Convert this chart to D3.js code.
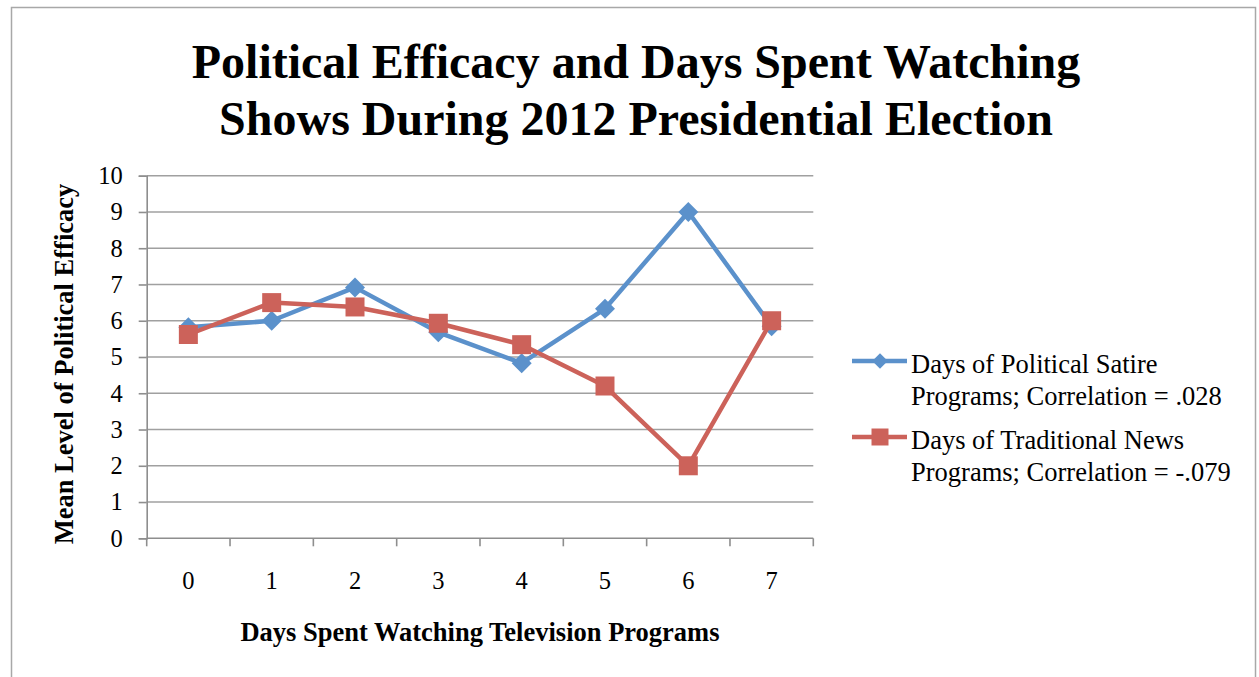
<!DOCTYPE html>
<html>
<head>
<meta charset="utf-8">
<script src="https://cdn.jsdelivr.net/npm/d3@7"></script>
<style>
  html, body { margin: 0; padding: 0; background: #fff; }
  svg { display: block; }
</style>
</head>
<body>
<svg id="chart" width="1259" height="677"></svg>
<script>
// Days watched (category axis)
const days = ["0", "1", "2", "3", "4", "5", "6", "7"];
// Mean political efficacy by days of political satire viewing
const satireValues = [5.82, 6.0, 6.92, 5.68, 4.83, 6.33, 9.0, 5.85];
// Mean political efficacy by days of traditional news viewing
const newsValues = [5.62, 6.5, 6.38, 5.93, 5.34, 4.2, 2.0, 6.0];
const yTicks = [0, 1, 2, 3, 4, 5, 6, 7, 8, 9, 10];
const seriesNames = [
  ["Days of Political Satire", "Programs; Correlation = .028"],
  ["Days of Traditional News", "Programs; Correlation = -.079"]
];
const titleLines = ["Political Efficacy and Days Spent Watching", "Shows During 2012 Presidential Election"];

const FONT = "'Liberation Serif', 'Times New Roman', Times, serif";
const svg = d3.select("#chart");
const blue = "#5b91cb", red = "#cc625a", grid = "#a0a0a0", axisCol = "#8e8e8e";

// Outer chart frame
svg.append("rect").attr("x", 11.5).attr("y", 7.5).attr("width", 1244).attr("height", 700)
  .attr("fill", "none").attr("stroke", "#a8a8a8").attr("stroke-width", 1.5);

// Title
svg.append("g").selectAll("text").data(titleLines).join("text")
  .attr("x", 636).attr("y", (d, i) => 78 + i * 57)
  .attr("text-anchor", "middle").style("font-family", FONT).style("font-weight", "bold")
  .style("font-size", "48px")
  .text(d => d);

const plot = { left: 146.7, right: 813.3, top: 175.7, bottom: 538.3 };

const x = d3.scaleBand().domain(days).range([plot.left, plot.right]);
const y = d3.scaleLinear().domain([0, 10]).range([plot.bottom, plot.top]);

// Horizontal gridlines
svg.append("g").selectAll("line").data(yTicks.filter(t => t > 0)).join("line")
  .attr("x1", plot.left).attr("x2", plot.right)
  .attr("y1", d => y(d)).attr("y2", d => y(d))
  .attr("stroke", grid).attr("stroke-width", 1.6);

// Y axis
const yAxis = svg.append("g").attr("transform", `translate(${plot.left},0)`)
  .call(d3.axisLeft(y).tickValues(yTicks).tickSize(8).tickPadding(16));
yAxis.attr("font-family", null).attr("font-size", null);
yAxis.select(".domain").attr("stroke", axisCol).attr("stroke-width", 1.6);
yAxis.selectAll(".tick line").attr("stroke", axisCol).attr("stroke-width", 1.6);
yAxis.selectAll(".tick text").style("font-size", "24.5px")
  .style("font-family", FONT).attr("fill", "#000");

// X axis: category boundaries as ticks, labels centred below each band
const xAxisG = svg.append("g").attr("transform", `translate(0,${plot.bottom})`);
xAxisG.append("line").attr("x1", plot.left).attr("x2", plot.right)
  .attr("stroke", axisCol).attr("stroke-width", 1.6);
const bounds = days.map(d => x(d)).concat([x(days[days.length - 1]) + x.bandwidth()]);
xAxisG.selectAll("line.tk").data(bounds).join("line").attr("class", "tk")
  .attr("x1", d => d).attr("x2", d => d).attr("y1", 0).attr("y2", 8)
  .attr("stroke", axisCol).attr("stroke-width", 1.6);
xAxisG.selectAll("text").data(days).join("text")
  .attr("x", d => x(d) + x.bandwidth() / 2).attr("y", 51)
  .attr("text-anchor", "middle").style("font-family", FONT).style("font-size", "24.5px")
  .text(d => d);

// Axis titles
svg.append("text").attr("x", 480).attr("y", 641).attr("text-anchor", "middle")
  .style("font-family", FONT).style("font-weight", "bold").style("font-size", "26.5px")
  .text("Days Spent Watching Television Programs");
svg.append("text").attr("transform", "translate(73,364) rotate(-90)")
  .attr("text-anchor", "middle")
  .style("font-family", FONT).style("font-weight", "bold").style("font-size", "26.5px")
  .text("Mean Level of Political Efficacy");

const cx = d => x(d) + x.bandwidth() / 2;
const line = d3.line().x((v, i) => cx(days[i])).y(v => y(v));

function drawSeries(values, color, marker) {
  const g = svg.append("g");
  g.append("path").datum(values).attr("d", line).attr("fill", "none")
    .attr("stroke", color).attr("stroke-width", 4.5).attr("stroke-linejoin", "round");
  g.selectAll("path.m").data(values).join("path").attr("class", "m")
    .attr("transform", (v, i) => `translate(${cx(days[i])},${y(v)})` + (marker === "diamond" ? " rotate(45)" : ""))
    .attr("d", d3.symbol().type(d3.symbolSquare).size(marker === "diamond" ? 200 : 361))
    .attr("fill", color);
}
drawSeries(satireValues, blue, "diamond");
drawSeries(newsValues, red, "square");

// Legend
const legend = svg.append("g");
const legendItems = [
  { color: blue, marker: "diamond", y: 361, lines: seriesNames[0] },
  { color: red, marker: "square", y: 437, lines: seriesNames[1] }
];
legendItems.forEach(it => {
  legend.append("line").attr("x1", 852).attr("x2", 907).attr("y1", it.y).attr("y2", it.y)
    .attr("stroke", it.color).attr("stroke-width", 4.5);
  legend.append("path")
    .attr("transform", `translate(880,${it.y})` + (it.marker === "diamond" ? " rotate(45)" : ""))
    .attr("d", d3.symbol().type(d3.symbolSquare).size(it.marker === "diamond" ? 120 : 289))
    .attr("fill", it.color);
  legend.selectAll(null).data(it.lines).join("text")
    .attr("x", 911).attr("y", (d, i) => it.y + 12 + i * 31.5)
    .style("font-family", FONT).style("font-size", "26.5px").text(d => d);
});
</script>
</body>
</html>
